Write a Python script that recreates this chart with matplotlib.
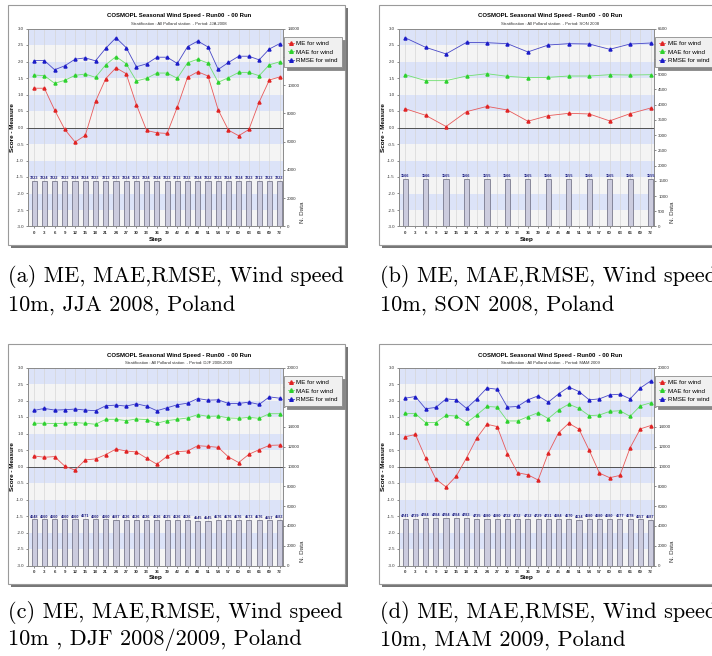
import matplotlib
matplotlib.use("Agg")
import matplotlib.pyplot as plt
import matplotlib.patches as patches
from matplotlib.lines import Line2D
from matplotlib.transforms import Affine2D
import numpy as np

W, H = 712, 656

# Data
steps_3h = list(range(0, 73, 3))
steps_6h = list(range(0, 73, 6))

jja_me = [1.19, 1.19, 0.53, -0.06, -0.44, -0.24, 0.79, 1.48, 1.81, 1.63, 0.69, -0.09, -0.16,
          -0.18, 0.62, 1.52, 1.69, 1.56, 0.53, -0.08, -0.25, -0.06, 0.77, 1.44, 1.53]
jja_mae = [1.59, 1.57, 1.34, 1.43, 1.58, 1.62, 1.52, 1.90, 2.15, 1.93, 1.41, 1.49, 1.65,
           1.65, 1.49, 1.96, 2.07, 1.95, 1.37, 1.51, 1.67, 1.67, 1.57, 1.90, 1.99]
jja_rmse = [2.03, 2.03, 1.75, 1.87, 2.07, 2.11, 2.02, 2.40, 2.72, 2.42, 1.84, 1.93, 2.13,
            2.13, 1.94, 2.45, 2.62, 2.44, 1.76, 1.97, 2.16, 2.16, 2.05, 2.38, 2.54]
jja_n = [3223, 3224, 3222, 3223, 3224, 3224, 3223, 3213, 3223, 3224, 3223, 3224, 3224,
         3223, 3213, 3223, 3224, 3222, 3223, 3224, 3224, 3223, 3213, 3223, 3223]

son_me = [0.57, 0.37, 0.03, 0.48, 0.64, 0.53, 0.19, 0.36, 0.43, 0.41, 0.20, 0.42, 0.59]
son_mae = [1.60, 1.42, 1.42, 1.56, 1.63, 1.55, 1.51, 1.52, 1.56, 1.56, 1.60, 1.59, 1.60]
son_rmse = [2.72, 2.43, 2.23, 2.58, 2.57, 2.54, 2.29, 2.50, 2.54, 2.53, 2.37, 2.53, 2.56]
son_n = [1566, 1566, 1565, 1566, 1555, 1566, 1565, 1566, 1555, 1566, 1565, 1566, 1555]

djf_me = [0.32, 0.28, 0.30, 0.01, -0.11, 0.20, 0.23, 0.36, 0.53, 0.47, 0.44, 0.25, 0.07,
          0.31, 0.45, 0.47, 0.63, 0.61, 0.58, 0.29, 0.12, 0.37, 0.51, 0.64, 0.65]
djf_mae = [1.31, 1.31, 1.30, 1.31, 1.33, 1.31, 1.28, 1.43, 1.43, 1.39, 1.44, 1.42, 1.31,
           1.39, 1.43, 1.47, 1.57, 1.52, 1.53, 1.47, 1.46, 1.49, 1.46, 1.60, 1.60]
djf_rmse = [1.70, 1.76, 1.71, 1.72, 1.74, 1.71, 1.69, 1.84, 1.86, 1.83, 1.90, 1.83, 1.69,
            1.78, 1.87, 1.92, 2.06, 2.01, 2.02, 1.91, 1.91, 1.95, 1.88, 2.11, 2.07]
djf_n = [4648, 4660, 4660, 4660, 4660, 4671, 4660, 4660, 4587, 4626, 4626, 4626, 4626,
         4625, 4626, 4626, 4545, 4545, 4576, 4576, 4576, 4573, 4576, 4557, 4583]

mam_me = [0.90, 0.97, 0.26, -0.38, -0.62, -0.29, 0.26, 0.86, 1.28, 1.21, 0.39, -0.19, -0.25,
          -0.41, 0.41, 1.02, 1.31, 1.13, 0.49, -0.20, -0.34, -0.27, 0.57, 1.14, 1.24]
mam_mae = [1.61, 1.60, 1.33, 1.33, 1.55, 1.53, 1.32, 1.56, 1.82, 1.80, 1.38, 1.38, 1.51,
           1.63, 1.45, 1.71, 1.89, 1.76, 1.54, 1.56, 1.67, 1.69, 1.52, 1.84, 1.93]
mam_rmse = [2.07, 2.12, 1.75, 1.79, 2.05, 2.02, 1.76, 2.05, 2.38, 2.34, 1.80, 1.82, 2.02,
            2.14, 1.95, 2.20, 2.41, 2.27, 2.02, 2.05, 2.17, 2.19, 2.05, 2.38, 2.59]
mam_n = [4741, 4739, 4784, 4784, 4784, 4784, 4783, 4735, 4680, 4680, 4732, 4732, 4732,
         4729, 4731, 4684, 4670, 4634, 4680, 4680, 4680, 4677, 4678, 4657, 4587]

captions = [
    ("(a) ME, MAE,RMSE, Wind speed", "10m, JJA 2008, Poland"),
    ("(b) ME, MAE,RMSE, Wind speed", "10m, SON 2008, Poland"),
    ("(c) ME, MAE,RMSE, Wind speed", "10m , DJF 2008/2009, Poland"),
    ("(d) ME, MAE,RMSE, Wind speed", "10m, MAM 2009, Poland"),
]

# Colours
band_blue = "#dce3f8"
band_gray = "#f4f4f4"
red = "#e02424"
green = "#2ed12e"
blue = "#1c1cc8"

sans = "Liberation Sans"

fig = plt.figure(figsize=(W / 100, H / 100), dpi=100)
fig.patch.set_facecolor("white")
# pixel coords, origin top-left
pix = Affine2D().scale(1 / W, -1 / H).translate(0, 1) + fig.transFigure


def panel(fx, fy, period, steps, me, mae, rmse, ndata, nmax, nstep, hidden):
    # frame with drop shadow
    fig.add_artist(patches.Rectangle((fx + 3, fy + 3), 337, 240, transform=pix,
                                     facecolor="#777777", edgecolor="none", zorder=-3))
    fig.add_artist(patches.Rectangle((fx, fy), 337, 240, transform=pix,
                                     facecolor="white", edgecolor="#9a9a9a", lw=0.8, zorder=-2))

    x0, x1 = fx + 20, fx + 275
    y0, y1 = fy + 23.5, fy + 221.5
    rect = [x0 / W, 1 - y1 / H, (x1 - x0) / W, (y1 - y0) / H]

    ax = fig.add_axes(rect)
    ax.set_xlim(-1.8, 73)
    ax.set_ylim(-3, 3)
    for k, lo in enumerate(np.arange(-3, 3, 0.5)):
        ax.axhspan(lo, lo + 0.5, color=band_blue if k % 2 else band_gray, lw=0, zorder=0)
    xt = list(range(0, 73, 3))
    for s in xt:
        ax.axvline(s, color="#d6d6d6", lw=0.5, zorder=0.5)
    ax.set_xticks(xt)
    ax.set_xticklabels([str(s) for s in xt], fontsize=3.2, fontweight="bold", family=sans)
    yt = np.arange(-3, 3.01, 0.5)
    ax.set_yticks(yt)
    ax.set_yticklabels(["%.1f" % v for v in yt], fontsize=3.2, family=sans)
    ax.tick_params(length=1.5, width=0.4, pad=1.5, colors="#333333")
    for sp in ax.spines.values():
        sp.set_color("#8a8a8a")
        sp.set_linewidth(0.6)

    axn = ax.twinx()
    axn.set_ylim(0, nmax)
    nt = list(range(0, nmax + 1, nstep))
    axn.set_yticks(nt)
    # labels under the legend box are not visible in the original
    axn.set_yticklabels(["" if v in hidden else str(v) for v in nt], fontsize=3.2, family=sans)
    axn.tick_params(length=1.5, width=0.4, pad=1.5, colors="#333333")
    for sp in axn.spines.values():
        sp.set_color("#8a8a8a")
        sp.set_linewidth(0.6)
    axn.bar(steps, ndata, width=1.5, color="#ccccde", edgecolor="#66667a", lw=0.5, zorder=2)
    for s, n in zip(steps, ndata):
        axn.annotate(str(n), (s, n), xytext=(0, 0.6), textcoords="offset points",
                     ha="center", va="bottom", fontsize=2.7, fontweight="bold",
                     color="#1e1e80", family=sans)

    axl = fig.add_axes(rect, sharex=ax, sharey=ax)
    axl.patch.set_visible(False)
    axl.axis("off")
    axl.axhline(0, color="#505050", lw=0.7)
    axl.plot(steps, me, color="#e85a5a", lw=0.6, marker="^", ms=2.2, mfc=red, mec=red)
    axl.plot(steps, mae, color="#70e070", lw=0.6, marker="^", ms=2.2, mfc=green, mec=green)
    axl.plot(steps, rmse, color="#4848c8", lw=0.6, marker="^", ms=2.2, mfc=blue, mec=blue)

    handles = [
        Line2D([0], [0], color="#e85a5a", lw=0.6, marker="^", ms=2.6, mfc=red, mec=red, label="ME for wind"),
        Line2D([0], [0], color="#70e070", lw=0.6, marker="^", ms=2.6, mfc=green, mec=green, label="MAE for wind"),
        Line2D([0], [0], color="#4848c8", lw=0.6, marker="^", ms=2.6, mfc=blue, mec=blue, label="RMSE for wind"),
    ]
    leg = axl.legend(handles=handles, loc="upper left", bbox_to_anchor=(fx + 276, fy + 32),
                     bbox_transform=pix, prop={"family": sans, "size": 4.5}, frameon=True,
                     fancybox=False, shadow={"color": "#888888", "alpha": 1},
                     facecolor="#f0f0f0", edgecolor="#8c8c8c", framealpha=1,
                     handlelength=1.0, handletextpad=0.4, borderpad=0.6, labelspacing=0.5,
                     borderaxespad=0)
    leg.get_frame().set_linewidth(0.6)

    fig.text(fx + 171, fy + 11, "COSMOPL Seasonal Wind Speed - Run00  - 00 Run", transform=pix,
             ha="center", va="center", fontsize=4.3, fontweight="bold", family=sans)
    fig.text(fx + 171, fy + 19, "Stratification : All Polland station  - Period: " + period,
             transform=pix, ha="center", va="center", fontsize=3.1, color="#333333", family=sans)
    fig.text(fx + 4.5, (y0 + y1) / 2, "Score - Measure", transform=pix, rotation=90,
             ha="center", va="center", fontsize=4.6, fontweight="bold", family=sans)
    fig.text(fx + 294, fy + 207, "N. Data", transform=pix, rotation=90,
             ha="center", va="center", fontsize=4.6, color="#333333", family=sans)
    fig.text((x0 + x1) / 2, fy + 234, "Step", transform=pix,
             ha="center", va="center", fontsize=4.6, fontweight="bold", family=sans)


panel(8, 5, "JJA 2008", steps_3h, jja_me, jja_mae, jja_rmse, jja_n, 14000, 2000, [12000])
panel(379, 5, "SON 2008", steps_6h, son_me, son_mae, son_rmse, son_n, 6500, 500, [5500, 6000])
panel(8, 344, "DJF 2008-2009", steps_3h, djf_me, djf_mae, djf_rmse, djf_n, 20000, 2000, [16000, 18000])
panel(379, 344, "MAM 2009", steps_3h, mam_me, mam_mae, mam_rmse, mam_n, 20000, 2000, [16000, 18000])

cap_pos = [(8, 277), (380, 277), (8, 612), (380, 612)]
for (cx, cy), (l1, l2) in zip(cap_pos, captions):
    fig.text(cx, cy, l1, transform=pix, ha="left", va="center", fontsize=16, family="cmr10")
    fig.text(cx, cy + 28, l2, transform=pix, ha="left", va="center", fontsize=16, family="cmr10")

fig.savefig("out.png", dpi=100, facecolor="white")
